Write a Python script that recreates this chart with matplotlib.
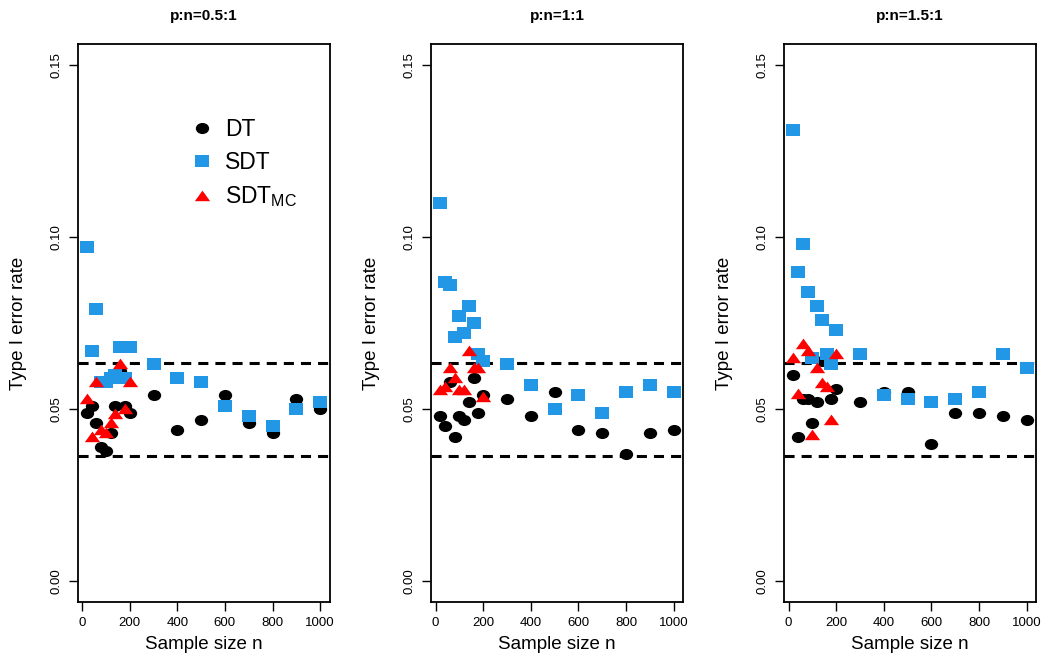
import matplotlib
matplotlib.use("Agg")
import matplotlib.pyplot as plt
from matplotlib.path import Path
from matplotlib.transforms import Affine2D
from matplotlib.lines import Line2D

plt.rcParams["font.family"] = ["Liberation Sans", "DejaVu Sans"]

# sample sizes (the MC version only goes up to 200)
n = [20, 40, 60, 80, 100, 120, 140, 160, 180, 200, 300, 400, 500, 600, 700, 800, 900, 1000]
n_mc = n[:10]

# p:n = 0.5:1
dt_05 = [0.049, 0.051, 0.046, 0.039, 0.038, 0.043, 0.051, 0.061, 0.051, 0.049,
         0.054, 0.044, 0.047, 0.054, 0.046, 0.043, 0.053, 0.050]
sdt_05 = [0.097, 0.067, 0.079, 0.058, 0.058, 0.059, 0.060, 0.068, 0.059, 0.068,
          0.063, 0.059, 0.058, 0.051, 0.048, 0.045, 0.050, 0.052]
mc_05 = [0.053, 0.042, 0.058, 0.044, 0.043, 0.046, 0.0485, 0.063, 0.050, 0.058]

# p:n = 1:1
dt_1 = [0.048, 0.045, 0.058, 0.042, 0.048, 0.047, 0.052, 0.059, 0.049, 0.054,
        0.053, 0.048, 0.055, 0.044, 0.043, 0.037, 0.043, 0.044]
sdt_1 = [0.110, 0.087, 0.086, 0.071, 0.077, 0.072, 0.080, 0.075, 0.066, 0.064,
         0.063, 0.057, 0.050, 0.054, 0.049, 0.055, 0.057, 0.055]
mc_1 = [0.0555, 0.0565, 0.062, 0.059, 0.0555, 0.0555, 0.067, 0.062, 0.062, 0.0535]

# p:n = 1.5:1
dt_15 = [0.060, 0.042, 0.053, 0.053, 0.046, 0.052, 0.064, 0.064, 0.053, 0.056,
         0.052, 0.055, 0.055, 0.040, 0.049, 0.049, 0.048, 0.047]
sdt_15 = [0.131, 0.090, 0.098, 0.084, 0.065, 0.080, 0.076, 0.066, 0.063, 0.073,
          0.066, 0.054, 0.053, 0.052, 0.053, 0.055, 0.066, 0.062]
mc_15 = [0.065, 0.0545, 0.069, 0.067, 0.0425, 0.062, 0.0575, 0.0565, 0.047, 0.066]

titles = ["p:n=0.5:1", "p:n=1:1", "p:n=1.5:1"]
panels = [(dt_05, sdt_05, mc_05), (dt_1, sdt_1, mc_1), (dt_15, sdt_15, mc_15)]

# bounds of the nominal level band
band = [0.0365, 0.0635]

x_ticks = [0, 200, 400, 600, 800, 1000]
y_ticks = [0.00, 0.05, 0.10, 0.15]
y_labels = ["0.00", "0.05", "0.10", "0.15"]

# markers in the picture are slightly wider than tall
circle = Path.unit_circle().transformed(Affine2D().scale(1.2, 1.0))
square = Path.unit_rectangle().transformed(Affine2D().translate(-0.5, -0.5).scale(1.2, 1.0))
triangle = Path([(0, 1.0), (-1.3, -0.8), (1.3, -0.8), (0, 1.0)], closed=True)

blue = "#2297E6"
styles = [
    dict(marker=circle, ms=9.6, color="black"),
    dict(marker=square, ms=9.6, color=blue),
    dict(marker=triangle, ms=11, color="red"),
]

W, H = 1043, 658
fig = plt.figure(figsize=(W / 100, H / 100), dpi=100)
lefts = [77.5, 431, 784]

for i, (dt, sdt, mc) in enumerate(panels):
    ax = fig.add_axes([lefts[i] / W, (H - 602) / H, 252 / W, (602 - 44.3) / H])
    ax.set_xlim(-19.2, 1039.2)
    ax.set_ylim(-0.006, 0.156)

    for b in band:
        ax.axhline(b, color="black", lw=2.2, dashes=(3.3, 2.3))

    ax.plot(n, dt, ls="none", mew=0, **styles[0])
    ax.plot(n, sdt, ls="none", mew=0, **styles[1])
    ax.plot(n_mc, mc, ls="none", mew=0, **styles[2])

    ax.set_xticks(x_ticks)
    ax.set_yticks(y_ticks)
    ax.set_yticklabels(y_labels, rotation=90, va="center")
    ax.tick_params(direction="out", length=6.5, width=1, labelsize=9.5)
    ax.tick_params(axis="y", pad=4.5)
    ax.tick_params(axis="x", pad=4)
    for s in ax.spines.values():
        s.set_linewidth(1.3)

    ax.text(0.5, 1.05, titles[i], transform=ax.transAxes, ha="center", va="center",
            fontsize=11, fontweight="bold")
    ax.set_xlabel("Sample size n", fontsize=13.5)
    ax.xaxis.set_label_coords(0.5, -0.077)
    ax.xaxis.label.set_va("center")
    ax.set_ylabel("Type I error rate", fontsize=13.5)
    ax.yaxis.set_label_coords(-0.235, 0.5)
    ax.yaxis.label.set_va("center")

    if i == 0:
        handles = [Line2D([], [], ls="none", mew=0, **st) for st in styles]
        ax.legend(handles, ["DT", "SDT", r"$\mathregular{SDT_{MC}}$"],
                  loc="upper left", bbox_to_anchor=(0.455, 0.868), frameon=False,
                  fontsize=16.5, handlelength=0.9, handletextpad=0.55,
                  labelspacing=0.45, borderaxespad=0, borderpad=0)

fig.savefig("out.png", dpi=100)
